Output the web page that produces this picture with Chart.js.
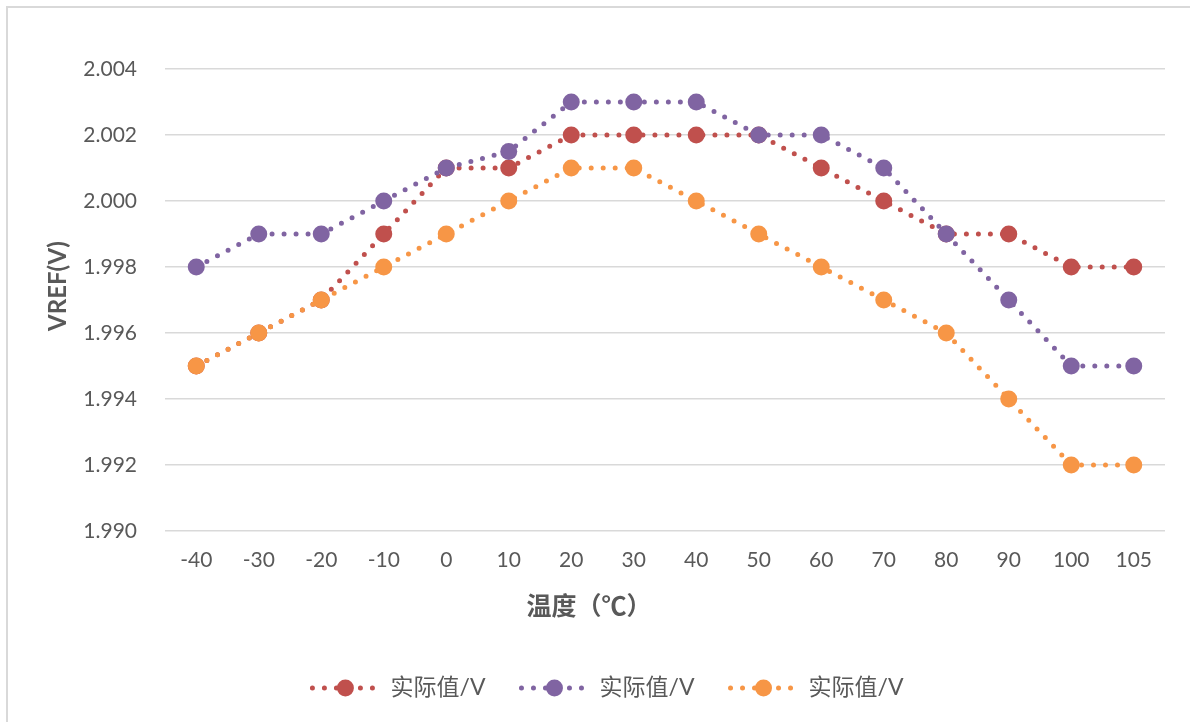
<!DOCTYPE html>
<html>
<head>
<meta charset="utf-8">
<script src="https://cdn.jsdelivr.net/npm/chart.js@4.4.1/dist/chart.umd.min.js"></script>
<style>
  html, body { margin: 0; padding: 0; background: #fff; }
  #wrap { position: relative; width: 1190px; height: 722px; overflow: hidden; }
  #frame { position: absolute; left: 6px; top: 6px; width: 1200px; height: 730px;
           border-left: 2px solid #d9d9d9; border-top: 2px solid #d9d9d9; box-sizing: border-box; }
  canvas { position: absolute; left: 0; top: 0; }
</style>
</head>
<body>
<div id="wrap">
  <div id="frame"></div>
  <canvas id="c" width="1190" height="722"></canvas>
</div>
<script>
// ---- data ----
const categories = ['-40','-30','-20','-10','0','10','20','30','40','50','60','70','80','90','100','105'];
const seriesNames = ['实际值/V', '实际值/V', '实际值/V'];
const redValues    = [1.995, 1.996, 1.997, 1.999, 2.001, 2.001, 2.002, 2.002, 2.002, 2.002, 2.001, 2.000, 1.999, 1.999, 1.998, 1.998];
const purpleValues = [1.998, 1.999, 1.999, 2.000, 2.001, 2.0015, 2.003, 2.003, 2.003, 2.002, 2.002, 2.001, 1.999, 1.997, 1.995, 1.995];
const orangeValues = [1.995, 1.996, 1.997, 1.998, 1.999, 2.000, 2.001, 2.001, 2.000, 1.999, 1.998, 1.997, 1.996, 1.994, 1.992, 1.992];
const yMin = 1.990, yMax = 2.004, yStep = 0.002;
const xTitle = '温度（℃）';
const yTitle = 'VREF(V)';

const colors = ['#C0504D', '#8064A2', '#F79646'];
const FONT = "Lato, 'Noto Sans CJK SC', sans-serif";
const DASH = [0, 12];
const LW = 5;

function ds(label, data, color, order) {
  return {
    label, data, order,
    borderColor: color, backgroundColor: color,
    borderWidth: LW, borderDash: DASH, borderCapStyle: 'round',
    pointRadius: 8.5, pointHoverRadius: 8.5,
    pointBackgroundColor: color, pointBorderColor: color, pointBorderWidth: 0,
    tension: 0, fill: false
  };
}

// axis titles and legend positioned like the Excel original
const decorPlugin = {
  id: 'excelDecor',
  afterDraw(chart) {
    const ctx = chart.ctx;
    ctx.save();
    ctx.fillStyle = '#595959';
    ctx.textAlign = 'center'; ctx.textBaseline = 'middle';
    // x title
    ctx.font = "bold 25px " + FONT;
    ctx.fillText(xTitle, 589, 607);
    // y title
    ctx.save();
    ctx.translate(58, 286);
    ctx.rotate(-Math.PI / 2);
    ctx.font = "bold 24px " + FONT;
    ctx.fillText(yTitle, 0, 0);
    ctx.restore();

    // legend
    const cy = 688;
    const lineLen = 61, gapText = 17, itemGap = 36;
    ctx.font = "23px " + FONT;
    const sets = chart.data.datasets;
    const items = sets.map(d => ({ d, w: lineLen + gapText + ctx.measureText(d.label).width }));
    const total = items.reduce((s, it) => s + it.w, 0) + itemGap * (items.length - 1);
    let x = 608 - total / 2;
    items.forEach(it => {
      const c = it.d.borderColor;
      ctx.strokeStyle = c; ctx.lineWidth = LW; ctx.lineCap = 'round';
      ctx.setLineDash(DASH);
      ctx.beginPath(); ctx.moveTo(x, cy); ctx.lineTo(x + lineLen, cy); ctx.stroke();
      ctx.setLineDash([]);
      ctx.fillStyle = c;
      ctx.beginPath(); ctx.arc(x + 33, cy, 8.5, 0, Math.PI * 2); ctx.fill();
      ctx.fillStyle = '#595959';
      ctx.textBaseline = 'middle'; ctx.textAlign = 'left';
      ctx.fillText(it.d.label, x + lineLen + gapText, cy);
      x += it.w + itemGap;
    });
    ctx.restore();
  }
};

new Chart(document.getElementById('c'), {
  type: 'line',
  data: {
    labels: categories,
    datasets: [
      ds(seriesNames[0], redValues, colors[0], 3),
      ds(seriesNames[1], purpleValues, colors[1], 2),
      ds(seriesNames[2], orangeValues, colors[2], 1)
    ]
  },
  options: {
    responsive: false,
    animation: false,
    layout: { padding: { left: 0, right: 25, top: 69, bottom: 101 } },
    plugins: { legend: { display: false }, tooltip: { enabled: false } },
    scales: {
      x: {
        type: 'category',
        offset: true,
        grid: { display: false, drawTicks: false },
        border: { display: false },
        ticks: { color: '#595959', font: { family: FONT, size: 21 }, padding: 17, maxRotation: 0, autoSkip: false },
        title: { display: false },
        afterFit(scale) { scale.height = 90; }
      },
      y: {
        min: yMin, max: yMax,
        grid: { color: '#d9d9d9', lineWidth: 1.5, drawTicks: false },
        border: { display: false },
        ticks: { stepSize: yStep, color: '#595959', font: { family: FONT, size: 21 }, padding: 28,
                 callback: v => Number(v).toFixed(3) },
        title: { display: false },
        afterFit(scale) { scale.width = 165; }
      }
    }
  },
  plugins: [decorPlugin]
});
</script>
</body>
</html>
